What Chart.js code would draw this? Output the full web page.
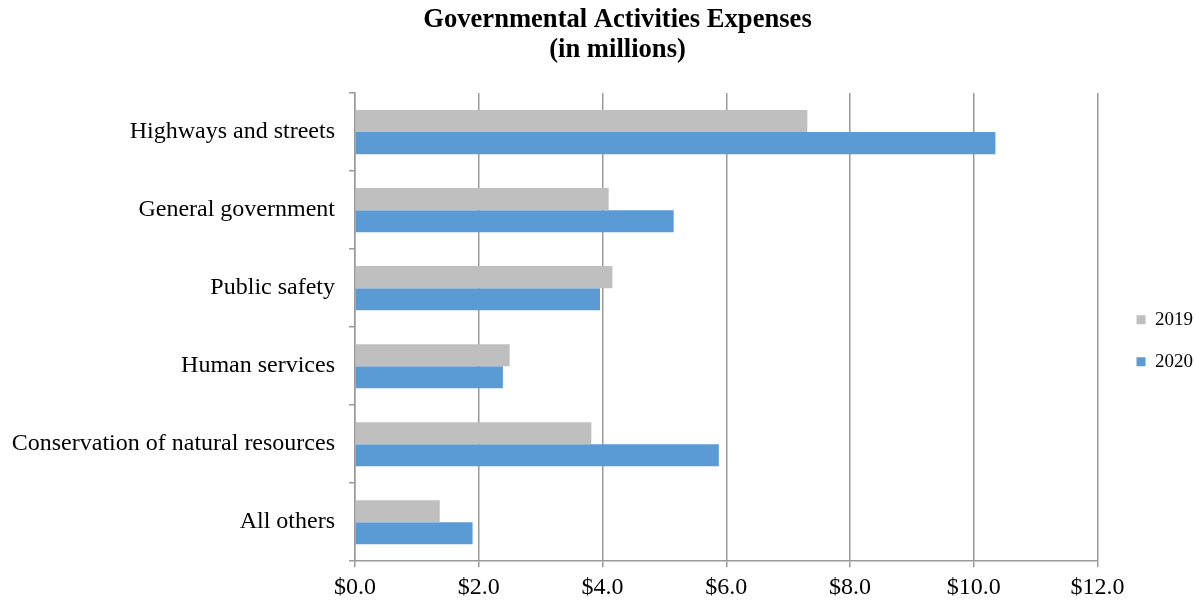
<!DOCTYPE html>
<html>
<head>
<meta charset="utf-8">
<script src="https://cdn.jsdelivr.net/npm/chart.js@4.4.1/dist/chart.umd.min.js"></script>
<style>
  body { margin: 0; background: #fff; }
  #wrap { width: 1195px; height: 603px; }
</style>
</head>
<body>
<div id="wrap"><canvas id="myChart" width="1195" height="603"></canvas></div>
<script>
  // values in millions of dollars
  const categories = ["Highways and streets", "General government", "Public safety", "Human services", "Conservation of natural resources", "All others"];
  const values2019 = [7.31, 4.10, 4.16, 2.50, 3.82, 1.37];
  const values2020 = [10.35, 5.15, 3.96, 2.39, 5.88, 1.90];
  const seriesNames = ["2019", "2020"];

  const serif = "'Liberation Serif', 'Times New Roman', serif";
  const gridColor = "#9a9a9a";

  // nudge title and legend sideways after layout, like the original
  const nudge = {
    id: "nudge",
    afterLayout(chart) {
      chart.titleBlock.left += 48;
      chart.legend.left += 16;
      chart.legend.right += 16;
    }
  };

  new Chart("myChart", {
    type: "bar",
    data: {
      labels: categories,
      datasets: [
        { label: seriesNames[0], data: values2019, backgroundColor: "#bfbfbf" },
        { label: seriesNames[1], data: values2020, backgroundColor: "#5b9bd5" }
      ]
    },
    plugins: [nudge],
    options: {
      indexAxis: "y",
      responsive: false,
      animation: false,
      layout: { padding: { left: 0, right: 8, top: 0, bottom: -5 } },
      datasets: { bar: { categoryPercentage: 0.565, barPercentage: 1.0 } },
      plugins: {
        title: {
          display: true,
          text: ["Governmental Activities Expenses", "(in millions)"],
          color: "#000",
          font: { family: serif, size: 26.6, weight: "bold", lineHeight: 1.13 },
          padding: { top: 5, bottom: 28 }
        },
        legend: {
          position: "right",
          // empty legend title only pushes the two items lower
          title: { display: true, text: "", font: { size: 8 }, padding: { top: 32, bottom: 32 } },
          labels: {
            color: "#000",
            font: { family: serif, size: 19 },
            boxWidth: 9,
            boxHeight: 9,
            padding: 23
          }
        },
        tooltip: { enabled: false }
      },
      scales: {
        x: {
          min: 0,
          max: 12,
          ticks: {
            stepSize: 2,
            color: "#000",
            font: { family: serif, size: 24 },
            padding: 6,
            callback: v => "$" + Number(v).toFixed(1)
          },
          grid: { color: gridColor, lineWidth: 1.5, tickLength: 6 },
          border: { color: gridColor, width: 1.5 }
        },
        y: {
          afterFit: s => { s.width = 355; },
          ticks: {
            color: "#000",
            font: { family: serif, size: 24 },
            padding: 14
          },
          grid: { offset: true, drawOnChartArea: false, color: gridColor, lineWidth: 1.5, tickLength: 6 },
          border: { color: gridColor, width: 1.5 }
        }
      }
    }
  });
</script>
</body>
</html>
